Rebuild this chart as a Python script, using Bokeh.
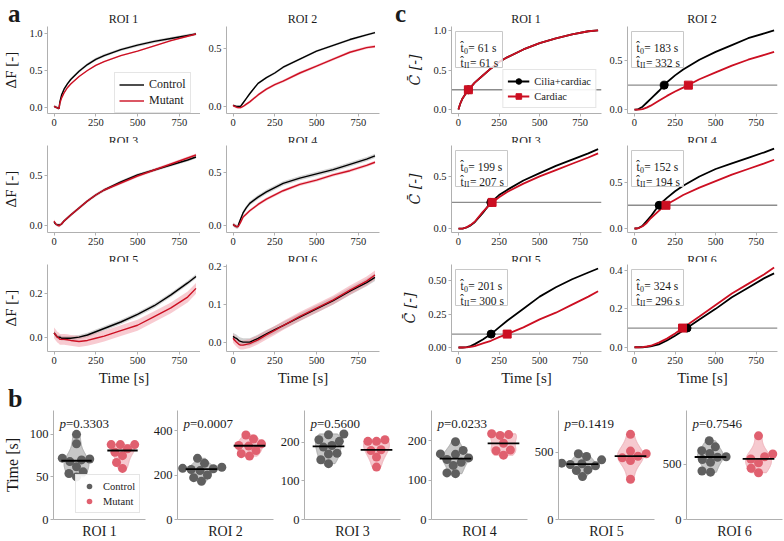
import numpy as np
from bokeh.plotting import figure
from bokeh.layouts import row, column
from bokeh.models import (Label, Span, Legend, LegendItem, Range1d, FixedTicker,
                          PrintfTickFormatter, Div)
from bokeh.embed import file_html
from bokeh.resources import INLINE

FONT = "Liberation Serif"
TXT = "#1a1a1a"
AXC = "#b0b0b0"
RED = "#cc0f22"
CTRL_BAND = "#9a9a9a"
MUT_BAND = "#f08c98"
CTRL_PT = "#5f5f5f"
MUT_PT = "#e0606f"
CTRL_VIO = "#bdbdbd"
MUT_VIO = "#f4c0c7"

# ------------------------------------------------------------------ data
roi_names = ["ROI 1", "ROI 2", "ROI 3", "ROI 4", "ROI 5", "ROI 6"]
panel_letters = ["a", "b", "c"]
x_ticks = [0, 250, 500, 750]

# panel a : mean normalised intensity change, Control / Mutant
t_a = [0, 10, 20, 30, 35, 45, 60, 80, 100, 150, 200, 250, 300, 400, 500, 600, 700, 800, 850]
a_control = [
    [0.02, 0.01, 0.00, -0.01, 0.08, 0.17, 0.25, 0.32, 0.38, 0.49, 0.58, 0.65, 0.70, 0.78, 0.84, 0.89, 0.93, 0.97, 0.99],
    [0.01, 0.005, 0.0, 0.0, 0.0, 0.0, 0.03, 0.07, 0.11, 0.20, 0.25, 0.29, 0.34, 0.41, 0.48, 0.53, 0.58, 0.62, 0.64],
    [0.03, 0.01, 0.0, 0.0, 0.0, 0.01, 0.04, 0.07, 0.10, 0.17, 0.24, 0.30, 0.35, 0.43, 0.50, 0.55, 0.60, 0.65, 0.68],
    [0.01, 0.0, -0.01, -0.01, 0.02, 0.06, 0.12, 0.17, 0.21, 0.27, 0.32, 0.36, 0.40, 0.45, 0.49, 0.53, 0.58, 0.63, 0.66],
    [0.02, 0.01, 0.0, 0.0, 0.0, -0.005, -0.005, -0.005, -0.005, 0.0, 0.01, 0.025, 0.04, 0.07, 0.105, 0.145, 0.195, 0.25, 0.28],
    [0.015, 0.012, 0.01, 0.006, 0.004, 0.002, 0.0, 0.0, 0.0, 0.01, 0.022, 0.033, 0.044, 0.066, 0.088, 0.11, 0.135, 0.158, 0.172],
]
a_mutant = [
    [0.02, 0.01, 0.00, -0.01, 0.06, 0.13, 0.20, 0.27, 0.32, 0.42, 0.50, 0.57, 0.62, 0.70, 0.76, 0.83, 0.90, 0.96, 0.99],
    [0.01, 0.0, -0.005, -0.01, -0.01, -0.01, 0.0, 0.02, 0.04, 0.10, 0.15, 0.19, 0.22, 0.29, 0.35, 0.41, 0.47, 0.51, 0.52],
    [0.04, 0.01, 0.0, -0.01, 0.0, 0.01, 0.04, 0.07, 0.10, 0.17, 0.24, 0.30, 0.35, 0.42, 0.49, 0.55, 0.61, 0.67, 0.70],
    [0.01, 0.0, -0.01, -0.01, 0.0, 0.03, 0.08, 0.11, 0.14, 0.20, 0.25, 0.29, 0.33, 0.39, 0.43, 0.48, 0.52, 0.57, 0.60],
    [0.02, 0.01, 0.0, -0.005, -0.01, -0.01, -0.01, -0.012, -0.015, -0.02, -0.015, -0.005, 0.005, 0.03, 0.055, 0.095, 0.135, 0.185, 0.225],
    [0.01, 0.005, 0.0, -0.004, -0.006, -0.008, -0.008, -0.006, -0.004, 0.006, 0.019, 0.031, 0.044, 0.068, 0.09, 0.112, 0.138, 0.162, 0.178],
]
a_control_sem = [0.02, 0.01, 0.015, 0.02, 0.01, 0.01]
a_mutant_sem = [0.01, 0.012, 0.015, 0.015, 0.025, 0.012]
a_yticks = [[0, 0.5, 1.0], [0, 0.5], [0, 0.5], [0, 0.5], [0, 0.2], [0, 0.1, 0.2]]
a_yranges = [(-0.076, 1.09), (-0.061, 0.693), (-0.075, 0.795), (-0.066, 0.759),
             (-0.066, 0.335), (-0.025, 0.206)]

# panel c : model curves, Cilia+cardiac / Cardiac
t_c = [0, 10, 25, 50, 75, 100, 150, 200, 250, 300, 400, 500, 600, 700, 800, 860]
c_cilia = [
    [0, 0.07, 0.14, 0.22, 0.28, 0.34, 0.43, 0.52, 0.60, 0.66, 0.76, 0.84, 0.90, 0.95, 0.99, 1.0],
    [0, 0.0, 0.005, 0.03, 0.07, 0.11, 0.19, 0.28, 0.35, 0.41, 0.51, 0.59, 0.66, 0.73, 0.78, 0.81],
    [0, 0.0, 0.0, 0.01, 0.03, 0.06, 0.15, 0.25, 0.32, 0.37, 0.46, 0.53, 0.60, 0.66, 0.72, 0.76],
    [0, 0.0, 0.005, 0.03, 0.08, 0.13, 0.25, 0.33, 0.40, 0.46, 0.56, 0.64, 0.70, 0.76, 0.82, 0.86],
    [0, 0.0, 0.0, 0.003, 0.01, 0.025, 0.06, 0.10, 0.15, 0.20, 0.29, 0.38, 0.45, 0.51, 0.56, 0.59],
    [0, 0.0, 0.0, 0.0, 0.002, 0.005, 0.015, 0.035, 0.06, 0.087, 0.145, 0.20, 0.26, 0.31, 0.36, 0.385],
]
c_cardiac = [
    [0, 0.07, 0.14, 0.22, 0.28, 0.34, 0.43, 0.52, 0.60, 0.66, 0.76, 0.84, 0.90, 0.95, 0.99, 1.0],
    [0, 0.0, 0.0, 0.005, 0.02, 0.04, 0.09, 0.14, 0.185, 0.225, 0.31, 0.38, 0.45, 0.51, 0.56, 0.59],
    [0, 0.0, 0.0, 0.012, 0.035, 0.065, 0.16, 0.24, 0.30, 0.35, 0.43, 0.50, 0.56, 0.62, 0.68, 0.72],
    [0, 0.0, 0.003, 0.025, 0.06, 0.11, 0.19, 0.26, 0.31, 0.36, 0.44, 0.51, 0.58, 0.64, 0.70, 0.74],
    [0, 0.0, 0.0, 0.001, 0.004, 0.01, 0.03, 0.05, 0.077, 0.10, 0.15, 0.21, 0.26, 0.32, 0.38, 0.42],
    [0, 0.0, 0.0, 0.001, 0.004, 0.008, 0.024, 0.045, 0.072, 0.102, 0.16, 0.22, 0.28, 0.33, 0.38, 0.415],
]
c_t0 = [61, 183, 199, 152, 201, 324]
c_tII = [61, 332, 207, 194, 300, 296]
c_threshold = [0.25, 0.25, 0.25, 0.25, 0.1, 0.1]
c_yticks = [[0, 0.5, 1.0], [0, 0.5], [0, 0.5], [0, 0.5], [0, 0.25, 0.5], [0, 0.2, 0.4]]
c_yfmt = ["%.1f", "%.1f", "%.1f", "%.1f", "%.2f", "%.1f"]
c_yranges = [(-0.05, 1.05), (-0.04, 0.85), (-0.038, 0.795), (-0.043, 0.893),
             (-0.03, 0.62), (-0.022, 0.431)]

# panel b : arrival times per fish
b_control = [
    [100, 89, 72, 71, 70, 68, 62, 56, 54, 50],
    [275, 253, 235, 230, 228, 225, 220, 200, 188, 172],
    [222, 220, 207, 203, 192, 188, 172, 170, 155, 145],
    [197, 175, 166, 165, 156, 152, 145, 137, 118, 116],
    [490, 470, 445, 420, 416, 410, 400, 370, 365, 320],
    [715, 660, 625, 600, 570, 565, 545, 520, 440, 430],
]
b_mutant = [
    [88, 88, 88, 83, 79, 75, 67, 60],
    [380, 362, 340, 333, 330, 310, 296, 285],
    [207, 203, 203, 181, 179, 162, 136],
    [217, 215, 213, 193, 176, 174, 163],
    [635, 510, 490, 472, 460, 440, 300],
    [760, 595, 570, 550, 515, 465, 425],
]
b_pvalues = ["0.3303", "0.0007", "0.5600", "0.0233", "0.1419", "0.7546"]
b_yticks = [[0, 50, 100], [0, 200, 400], [0, 100, 200], [0, 100, 200], [0, 500], [0, 500]]
b_yranges = [(0, 128), (0, 490), (0, 283), (0, 276), (0, 813), (0, 990)]

# ------------------------------------------------------------------ layout constants
FH = 87       # frame height, panels a and c
FHB = 109     # frame height, panel b
A_COLS = [(200, 47, 0), (190, 26, 11)]
C_COLS = [(213, 61, 2), (181, 24, 7)]
ROWS = [(110, 3, 20), (110, 3, 20), (129, 3, 39)]
A_XR = (-39, 877)
C_XR = (-43, 881)
FRAME_CENTERS = [123.5, 302.5, 526, 702]   # page x of frame centres (a1, a2, c1, c2)
TITLE_PX = 12


def make_fig(width, height, left, right, top, bottom, xr, yr):
    p = figure(width=width, height=height, x_range=Range1d(*xr), y_range=Range1d(*yr),
               toolbar_location=None, output_backend="svg",
               min_border_left=left, min_border_right=right,
               min_border_top=top, min_border_bottom=bottom)
    p.outline_line_color = None
    p.xgrid.visible = False
    p.ygrid.visible = False
    p.background_fill_color = "white"
    p.border_fill_color = "white"
    for ax in p.axis:
        ax.axis_line_color = AXC
        ax.major_tick_line_color = AXC
        ax.minor_tick_line_color = None
        ax.major_tick_out = 3
        ax.major_tick_in = 0
        ax.major_label_text_font = FONT
        ax.major_label_text_font_size = "10.5px"
        ax.major_label_text_color = TXT
        ax.major_label_standoff = 2
        ax.axis_label_text_font = FONT
        ax.axis_label_text_font_style = "normal"
        ax.axis_label_text_color = TXT
    return p


def lab(p, x, y, text, xo=0, yo=0, size="11.5px", align="left", style="normal"):
    p.add_layout(Label(x=x, y=y, x_offset=xo, y_offset=yo, text=text, text_font=FONT,
                       text_font_size=size, text_align=align, text_baseline="alphabetic",
                       text_font_style=style, text_color=TXT))


def style_legend(lg, size, row_h=14):
    lg.label_text_font = FONT
    lg.label_text_font_size = size
    lg.label_text_color = TXT
    lg.border_line_color = "#cccccc"
    lg.background_fill_alpha = 0.9
    lg.padding = 4
    lg.spacing = 1
    lg.margin = 0
    lg.label_standoff = 5
    lg.glyph_height = row_h
    lg.label_height = row_h


def span_html(x, baseline, text, size, weight="normal", center=False, lh=None):
    lh = size if lh is None else lh
    top = baseline - ((lh - 1.107 * size) / 2 + 0.891 * size)
    if center:
        left, width, align = x - 100, 200, "center"
    else:
        left, width, align = x, 100, "left"
    return ('<span style="position:absolute;left:%.1fpx;top:%.1fpx;width:%dpx;'
            'text-align:%s;font-family:\'%s\';font-size:%.1fpx;line-height:%.1fpx;'
            'font-weight:%s;color:%s;white-space:nowrap;">%s</span>'
            % (left, top, width, align, FONT, size, lh, weight, TXT, text))


def strip(height, items):
    html = ('<div style="position:relative;width:784px;height:%dpx;overflow:visible;">%s</div>'
            % (height, "".join(items)))
    return Div(text=html, width=784, height=height, margin=0,
               styles={"overflow": "visible"})


def swarm_x(vals, center, ypx, xpx, d=8.6):
    v = np.asarray(vals, float)
    order = np.argsort(v, kind="stable")
    placed = []
    xs = np.empty(len(v))
    for i in order:
        y = v[i] * ypx
        cands = [0.0]
        for (qx, qy) in placed:
            dy = y - qy
            if abs(dy) < d:
                dx = np.sqrt(d * d - dy * dy)
                cands += [qx + dx, qx - dx]
        cands.sort(key=lambda c: (abs(c), c))
        chosen = 0.0
        for c in cands:
            if all((c - qx) ** 2 + (y - qy) ** 2 >= d * d - 1e-6 for qx, qy in placed):
                chosen = c
                break
        placed.append((chosen, y))
        xs[i] = center + chosen / xpx
    return xs


def violin(vals, center, half):
    v = np.asarray(vals, float)
    bw = v.std(ddof=1) * len(v) ** (-0.2)
    ys = np.linspace(v.min(), v.max(), 80)
    dens = np.exp(-0.5 * ((ys[:, None] - v[None, :]) / bw) ** 2).sum(1)
    dens = dens / dens.max() * half
    xs = np.concatenate([center - dens, (center + dens)[::-1]])
    yy = np.concatenate([ys, ys[::-1]])
    return xs, yy


# ------------------------------------------------------------------ panel a
a_figs = []
for i in range(6):
    r, c = divmod(i, 2)
    h, top, bot = ROWS[r]
    w, left, right = A_COLS[c]
    yr = a_yranges[i]
    p = make_fig(w, h, left, right, top, bot, A_XR, yr)
    ta = np.array(t_a, float)
    ctl = np.array(a_control[i])
    mut = np.array(a_mutant[i])
    p.varea(x=ta, y1=ctl - a_control_sem[i], y2=ctl + a_control_sem[i],
            fill_color=CTRL_BAND, fill_alpha=0.45)
    p.varea(x=ta, y1=mut - a_mutant_sem[i], y2=mut + a_mutant_sem[i],
            fill_color=MUT_BAND, fill_alpha=0.45)
    lc = p.line(ta, ctl, line_color="black", line_width=1.4)
    lm = p.line(ta, mut, line_color=RED, line_width=1.4)
    p.xaxis.ticker = FixedTicker(ticks=x_ticks)
    p.yaxis.ticker = FixedTicker(ticks=a_yticks[i])
    p.yaxis.formatter = PrintfTickFormatter(format="%.1f")
    if c == 0:
        p.yaxis.axis_label = "ΔF [-]"
        p.yaxis.axis_label_text_font_size = "15px"
        p.yaxis.axis_label_standoff = 7
    if r == 2:
        p.xaxis.axis_label = "Time [s]"
        p.xaxis.axis_label_text_font_size = "15px"
        p.xaxis.axis_label_standoff = 3
    if i == 0:
        lg = Legend(items=[LegendItem(label="Control", renderers=[lc]),
                           LegendItem(label="Mutant", renderers=[lm])],
                    location=(67, 0))
        style_legend(lg, "12px", 15)
        lg.glyph_width = 25
        p.add_layout(lg)
    a_figs.append(p)

# ------------------------------------------------------------------ panel c
c_figs = []
for i in range(6):
    r, c = divmod(i, 2)
    h, top, bot = ROWS[r]
    w, left, right = C_COLS[c]
    fw = w - left - right
    yr = c_yranges[i]
    p = make_fig(w, h, left, right, top, bot, C_XR, yr)
    p.add_layout(Span(location=c_threshold[i], dimension="width", line_color="#8c8c8c",
                      line_width=1.3, level="underlay"))
    tc = np.array(t_c, float)
    lk = p.line(tc, c_cilia[i], line_color="black", line_width=1.8)
    lr = p.line(tc, c_cardiac[i], line_color=RED, line_width=1.8)
    mk = p.scatter([c_t0[i]], [c_threshold[i]], marker="circle", size=8,
                   fill_color="black", line_color="black")
    mr = p.scatter([c_tII[i]], [c_threshold[i]], marker="square", size=8,
                   fill_color=RED, line_color=RED)
    p.xaxis.ticker = FixedTicker(ticks=x_ticks)
    p.yaxis.ticker = FixedTicker(ticks=c_yticks[i])
    p.yaxis.formatter = PrintfTickFormatter(format=c_yfmt[i])
    if c == 0:
        p.yaxis.axis_label = "C\u0304 [-]"
        p.yaxis.axis_label_text_font = "DejaVu Serif"
        p.yaxis.axis_label_text_font_size = "14px"
        p.yaxis.axis_label_text_font_style = "italic"
        p.yaxis.axis_label_standoff = 7
    if r == 2:
        p.xaxis.axis_label = "Time [s]"
        p.xaxis.axis_label_text_font_size = "15px"
        p.xaxis.axis_label_standoff = 3
    # estimate box
    ppx = (C_XR[1] - C_XR[0]) / fw
    ppy = (yr[1] - yr[0]) / FH
    bw = 47 if max(c_t0[i], c_tII[i]) < 100 else 52
    p.quad(left=[C_XR[0] + 4 * ppx], right=[C_XR[0] + (4 + bw) * ppx],
           top=[yr[1] - 5 * ppy], bottom=[yr[1] - 41 * ppy],
           fill_color="white", fill_alpha=0.8, line_color="#c8c8c8", line_width=1)
    x0, y1 = C_XR[0], yr[1]
    lab(p, x0, y1, "t\u0302", xo=9, yo=-21)
    lab(p, x0, y1, "0", xo=12.6, yo=-24, size="8px")
    lab(p, x0, y1, "= %d s" % c_t0[i], xo=16.8, yo=-21)
    lab(p, x0, y1, "t\u0302", xo=9, yo=-36)
    lab(p, x0, y1, "II", xo=12.6, yo=-39, size="8px")
    lab(p, x0, y1, "= %d s" % c_tII[i], xo=18.4, yo=-36)
    if i == 0:
        lg = Legend(items=[LegendItem(label="Cilia+cardiac", renderers=[lk, mk]),
                           LegendItem(label="Cardiac", renderers=[lr, mr])],
                    location="bottom_right")
        style_legend(lg, "10.5px", 14)
        lg.margin = 5
        lg.glyph_width = 22
        p.add_layout(lg)
    c_figs.append(p)

# ------------------------------------------------------------------ panel b
B_COLS = [(147, 49, 2), (127, 30, 1), (127, 30, 1), (127, 30, 1), (127, 30, 1), (129, 31, 2)]
BXR = (-0.5, 1.5)
b_figs = []
for i in range(6):
    w, left, right = B_COLS[i]
    fw = w - left - right
    yr = b_yranges[i]
    p = make_fig(w, 134, left, right, 3, 22, BXR, yr)
    xpx = fw / (BXR[1] - BXR[0])
    ypx = FHB / (yr[1] - yr[0])
    vx, vy = violin(b_control[i], 0, 0.27)
    p.patch(vx, vy, fill_color=CTRL_VIO, fill_alpha=0.85, line_color="#a8a8a8", line_width=1)
    vx, vy = violin(b_mutant[i], 1, 0.27)
    p.patch(vx, vy, fill_color=MUT_VIO, fill_alpha=0.85, line_color="#eeb0b8", line_width=1)
    sc = p.scatter(swarm_x(b_control[i], 0, ypx, xpx), b_control[i], marker="circle",
                   size=9, fill_color=CTRL_PT, line_color=None)
    sm = p.scatter(swarm_x(b_mutant[i], 1, ypx, xpx), b_mutant[i], marker="circle",
                   size=9, fill_color=MUT_PT, line_color=None)
    mc = float(np.median(b_control[i]))
    mm = float(np.median(b_mutant[i]))
    p.segment(x0=[-0.33, 0.67], x1=[0.33, 1.33], y0=[mc, mm], y1=[mc, mm],
              line_color="black", line_width=1.8)
    p.xaxis.ticker = FixedTicker(ticks=[])
    p.xaxis.major_tick_out = 0
    p.xaxis.axis_label = roi_names[i]
    p.xaxis.axis_label_text_font_size = "14px"
    p.xaxis.axis_label_standoff = 4
    p.yaxis.ticker = FixedTicker(ticks=b_yticks[i])
    p.yaxis.formatter = PrintfTickFormatter(format="%d")
    p.yaxis.major_label_text_font_size = "12.5px"
    if i == 0:
        p.yaxis.axis_label = "Time [s]"
        p.yaxis.axis_label_text_font_size = "16px"
        p.yaxis.axis_label_standoff = 6
        lg = Legend(items=[LegendItem(label="Control", renderers=[sc]),
                           LegendItem(label="Mutant", renderers=[sm])],
                    location=(22, 6))
        style_legend(lg, "10.5px", 14)
        lg.glyph_width = 18
        p.add_layout(lg)
    lab(p, BXR[0], yr[1], "p", xo=6, yo=-13, size="13px", style="italic")
    lab(p, BXR[0], yr[1], "=" + b_pvalues[i], xo=12.5, yo=-13, size="13px")
    b_figs.append(p)

# ------------------------------------------------------------------ title strips
strip1 = strip(23, [span_html(8, 22.3, panel_letters[0], 25, "bold", lh=17),
                    span_html(395, 22.3, panel_letters[2], 25, "bold", lh=17),
                    span_html(FRAME_CENTERS[0], 23, roi_names[0], TITLE_PX, center=True),
                    span_html(FRAME_CENTERS[1], 23, roi_names[1], TITLE_PX, center=True),
                    span_html(FRAME_CENTERS[2], 23, roi_names[0], TITLE_PX, center=True),
                    span_html(FRAME_CENTERS[3], 23, roi_names[1], TITLE_PX, center=True)])
strip2 = strip(9, [span_html(FRAME_CENTERS[0], 9, roi_names[2], TITLE_PX, center=True),
                   span_html(FRAME_CENTERS[1], 9, roi_names[3], TITLE_PX, center=True),
                   span_html(FRAME_CENTERS[2], 9, roi_names[2], TITLE_PX, center=True),
                   span_html(FRAME_CENTERS[3], 9, roi_names[3], TITLE_PX, center=True)])
strip3 = strip(9, [span_html(FRAME_CENTERS[0], 9, roi_names[4], TITLE_PX, center=True),
                   span_html(FRAME_CENTERS[1], 9, roi_names[5], TITLE_PX, center=True),
                   span_html(FRAME_CENTERS[2], 9, roi_names[4], TITLE_PX, center=True),
                   span_html(FRAME_CENTERS[3], 9, roi_names[5], TITLE_PX, center=True)])
strip4 = strip(17, [span_html(8, 17, panel_letters[1], 26, "bold", lh=17)])

layout = column(
    strip1,
    row(a_figs[0], a_figs[1], c_figs[0], c_figs[1]),
    strip2,
    row(a_figs[2], a_figs[3], c_figs[2], c_figs[3]),
    strip3,
    row(a_figs[4], a_figs[5], c_figs[4], c_figs[5]),
    strip4,
    row(*b_figs),
)

open("out.html", "w").write(file_html(layout, INLINE, title="ROI figure"))
